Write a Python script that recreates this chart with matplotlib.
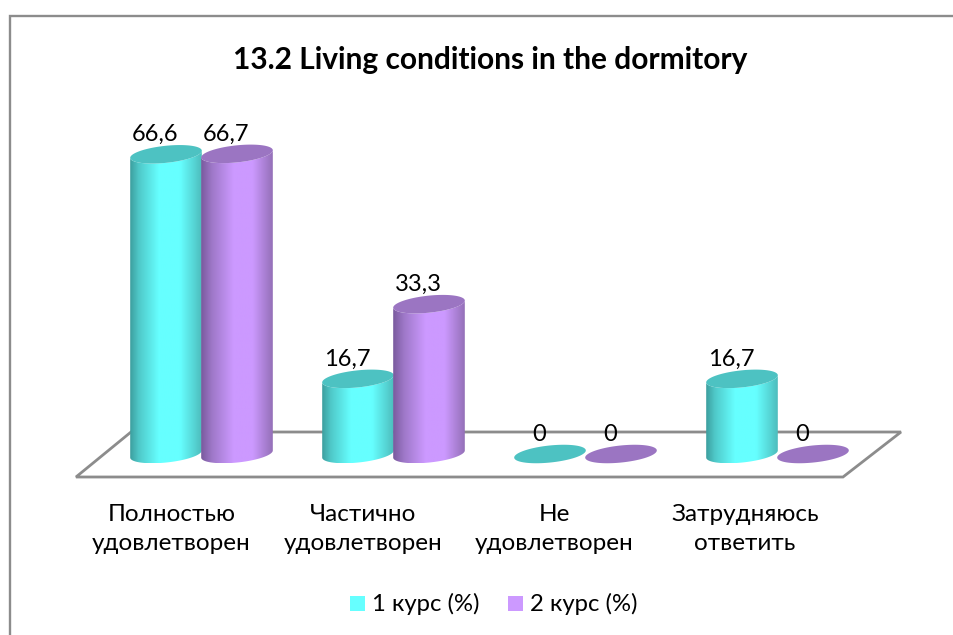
import numpy as np
import matplotlib
matplotlib.use('Agg')
import matplotlib.pyplot as plt
from matplotlib.colors import LinearSegmentedColormap
from matplotlib.patches import Polygon, Rectangle

plt.rcParams['font.family'] = ['Lato', 'Noto Sans', 'DejaVu Sans']

title = '13.2 Living conditions in the dormitory'
categories = ['Полностью\nудовлетворен', 'Частично\nудовлетворен', 'Не\nудовлетворен', 'Затрудняюсь\nответить']
series_names = ['1 курс (%)', '2 курс (%)']
course1 = [66.6, 16.7, 0, 16.7]
course2 = [66.7, 33.3, 0, 0]
labels1 = ['66,6', '16,7', '0', '16,7']
labels2 = ['66,7', '33,3', '0', '0']

W, H = 954, 635
# pixels per category and per percent, where category 0 and value 0 sit
px_cat, px_val = 192.0, 4.5
x0_px, y0_px = 201.5, 454.0

fig = plt.figure(figsize=(W / 100, H / 100), dpi=100)
ax = fig.add_axes([0, 0, 1, 1])
ax.set_xlim((0 - x0_px) / px_cat, (W - x0_px) / px_cat)
ax.set_ylim((y0_px - H) / px_val, y0_px / px_val)
ax.axis('off')


def to_x(px):
    return (px - x0_px) / px_cat


def to_y(px):
    return (y0_px - px) / px_val


# chart frame, only left and top are visible in the picture
ax.plot([to_x(9.5), to_x(9.5), to_x(W)], [to_y(H), to_y(16), to_y(16)], color='#8c8c8c', lw=1.7, solid_joinstyle='miter')

# floor of the 3d chart
floor_x = [to_x(76), to_x(843), to_x(901), to_x(131)]
floor_y = [to_y(477), to_y(477), to_y(432), to_y(432)]
ax.add_patch(Polygon(np.column_stack([floor_x, floor_y]), closed=True, fc='white', ec='#8c8c8c', lw=2, zorder=1))

cmap1 = LinearSegmentedColormap.from_list('c1', [(0, '#3d9f9f'), (0.12, '#4fc8c8'), (0.4, '#66ffff'), (0.7, '#66ffff'), (1, '#4dbdbd')])
cmap2 = LinearSegmentedColormap.from_list('c2', [(0, '#7a5a9e'), (0.15, '#9e78c8'), (0.45, '#cc99ff'), (0.72, '#cc99ff'), (1, '#9470b8')])
top1, top2 = '#4dc2c2', '#9b75c2'
grad = np.linspace(0, 1, 128).reshape(1, -1)


def ellipse(xc, v, half_w=36.0, half_h=8.5, tilt=6.0):
    t = np.linspace(0, 2 * np.pi, 121)
    a = np.radians(tilt)
    ex = half_w * np.cos(t) * np.cos(a) - half_h * np.sin(t) * np.sin(a)
    ey = half_w * np.cos(t) * np.sin(a) + half_h * np.sin(t) * np.cos(a)
    return xc + ex / px_cat, v + ey / px_val


def cylinder(xc, v, cmap, top, z):
    if v > 0:
        # body: lower half of the base ellipse swept up to the top
        ex, ey = ellipse(xc, 0)
        left, right = ex.argmin(), ex.argmax()
        idx = np.arange(left, right + 1 if right > left else right + 122) % 121
        lower = np.column_stack([ex[idx], ey[idx]])
        upper = lower[::-1] + [0, v]
        poly = Polygon(np.vstack([lower, upper]), closed=True, fc='none', ec='none', zorder=z)
        ax.add_patch(poly)
        im = ax.imshow(grad, cmap=cmap, aspect='auto', zorder=z, interpolation='bilinear',
                       extent=[ex.min(), ex.max(), ey.min(), v + ey.max()])
        im.set_clip_path(poly)
    tx, ty = ellipse(xc, v)
    ax.fill(tx, ty, color=top, lw=0, zorder=z + 0.1)


offset = 35.5 / px_cat
label_shift = -11 / px_cat
label_rise = 19.5 / px_val
cat_shift = [-30, -30.5, -31.5, -32.5]
for i in range(len(categories)):
    cylinder(i - offset, course1[i], cmap1, top1, 3)
    cylinder(i + offset, course2[i], cmap2, top2, 4)
    ax.text(i - offset + label_shift, course1[i] + label_rise, labels1[i], ha='center', va='center', fontsize=17, color='black', zorder=6)
    ax.text(i + offset + label_shift, course2[i] + label_rise, labels2[i], ha='center', va='center', fontsize=17, color='black', zorder=6)
    ax.text(i + cat_shift[i] / px_cat, to_y(529), categories[i], ha='center', va='center', fontsize=17.5, color='black', linespacing=1.5)
ax.set_xlim((0 - x0_px) / px_cat, (W - x0_px) / px_cat)
ax.set_ylim((y0_px - H) / px_val, y0_px / px_val)

ax.text(to_x(490), to_y(60), title, ha='center', va='center', fontsize=21.5, fontweight='bold', color='black')

# legend
for px, name, col in [(350, series_names[0], '#66ffff'), (508, series_names[1], '#cc99ff')]:
    ax.add_patch(Rectangle((to_x(px), to_y(611)), 15 / px_cat, 15 / px_val, fc=col, ec='none'))
    ax.text(to_x(px + 22), to_y(604), name, ha='left', va='center', fontsize=17.2, color='black')

fig.savefig('out.png', dpi=100)
